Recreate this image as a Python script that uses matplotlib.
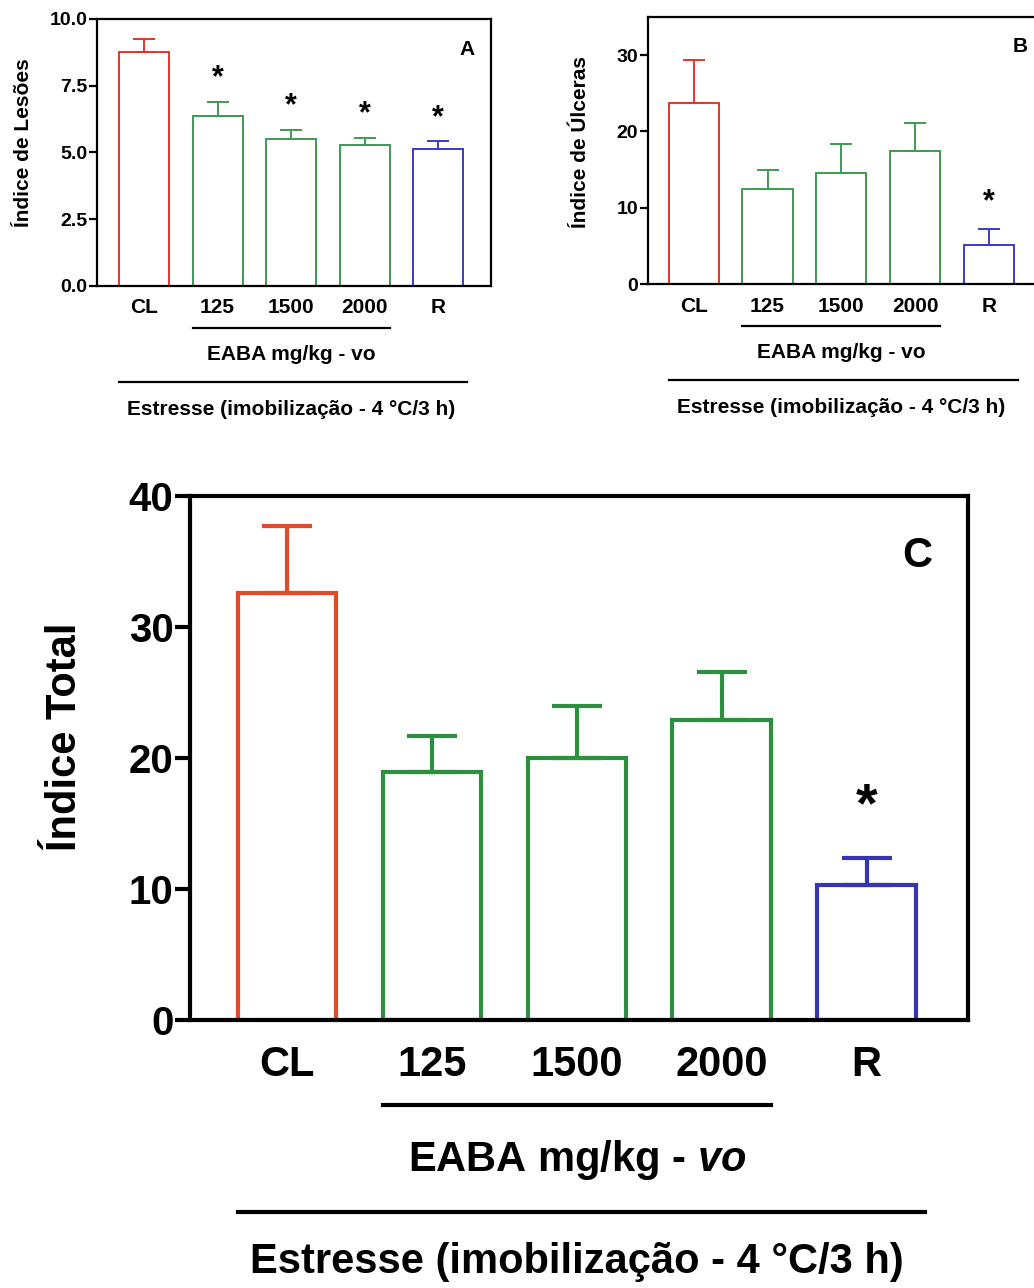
import matplotlib.pyplot as plt
import numpy as np

plt.rcParams['font.family'] = ['Liberation Sans', 'DejaVu Sans']
plt.rcParams['font.weight'] = 'bold'
plt.rcParams['mathtext.fontset'] = 'custom'
plt.rcParams['mathtext.rm'] = 'Liberation Sans:bold'
plt.rcParams['mathtext.it'] = 'Liberation Sans:italic:bold'

# data (mean + upper SEM)
groups = ['CL', '125', '1500', '2000', 'R']
lesoes_mean = [8.78, 6.37, 5.49, 5.26, 5.12]
lesoes_sem = [0.46, 0.53, 0.35, 0.27, 0.29]
lesoes_sig = [False, True, True, True, True]
ulceras_mean = [23.7, 12.5, 14.5, 17.5, 5.15]
ulceras_sem = [5.6, 2.4, 3.8, 3.6, 2.1]
ulceras_sig = [False, False, False, False, True]
total_mean = [32.6, 18.9, 20.0, 22.9, 10.3]
total_sem = [5.1, 2.8, 4.0, 3.7, 2.1]
total_sig = [False, False, False, False, True]

small_colors = ['#e8332c', '#3f9a52', '#3f9a52', '#3f9a52', '#3c3cc6']
big_colors = ['#e14b2c', '#2f8f40', '#2f8f40', '#2f8f40', '#3535b2']

small = dict(lw_sp=1.6, lw_bar=1.4, cap=8, tick=14, tlen=6, cat=15, cat_pad=9,
             lab=15, letter=15, star=22, star_off=17, txt=15,
             y_line1=-0.157, y_eaba=-0.258, y_line2=-0.36, y_est=-0.464)
big = dict(lw_sp=3.0, lw_bar=3.0, cap=18, tick=29, tlen=11, cat=30, cat_pad=18,
           lab=30, letter=30, star=40, star_off=36, txt=30,
           y_line1=-0.162, y_eaba=-0.267, y_line2=-0.366, y_est=-0.462)


def draw_panel(ax, means, sems, sig, colors, s, ylim, yticks, yfmt, ylabel,
               letter, letter_pos, xlim, eaba_text, star_off=None):
    x = np.arange(len(groups))
    ax.bar(x, means, width=0.68, fill=False, edgecolor=colors, linewidth=s['lw_bar'], zorder=2)
    for xi, m, e, c in zip(x, means, sems, colors):
        ax.errorbar(xi, m, yerr=[[0], [e]], fmt='none', ecolor=c, elinewidth=s['lw_bar'],
                    capsize=s['cap'], capthick=s['lw_bar'], zorder=2)
    off = star_off if star_off is not None else s['star_off']
    for xi, m, e, flag in zip(x, means, sems, sig):
        if flag:
            ax.annotate('*', xy=(xi, m + e), xytext=(0, off), textcoords='offset points',
                        ha='center', va='center', fontsize=s['star'], fontweight='bold')
    ax.set_xlim(*xlim)
    ax.set_ylim(*ylim)
    ax.set_yticks(yticks)
    ax.set_yticklabels([yfmt.format(v) for v in yticks])
    ax.set_xticks(x)
    ax.set_xticklabels(groups)
    ax.tick_params(axis='x', length=0, pad=s['cat_pad'], labelsize=s['cat'])
    ax.tick_params(axis='y', length=s['tlen'], width=s['lw_sp'], pad=1, labelsize=s['tick'])
    for sp in ax.spines.values():
        sp.set_linewidth(s['lw_sp'])
    ax.set_ylabel(ylabel, fontsize=s['lab'], fontweight='bold')
    ax.text(letter_pos[0], letter_pos[1], letter, transform=ax.transAxes, fontsize=s['letter'],
            fontweight='bold', ha='center', va='center')
    tr = ax.get_xaxis_transform()
    ax.plot([0.66, 3.34], [s['y_line1']] * 2, color='black', lw=s['lw_sp'], transform=tr, clip_on=False)
    ax.plot([-0.34, 4.4], [s['y_line2']] * 2, color='black', lw=s['lw_sp'], transform=tr, clip_on=False)
    ax.text(2, s['y_eaba'], eaba_text, transform=tr, ha='center', va='center', fontsize=s['txt'],
            fontweight='bold')
    ax.text(2, s['y_est'], 'Estresse (imobilização - 4 °C/3 h)', transform=tr, ha='center',
            va='center', fontsize=s['txt'], fontweight='bold')


fig = plt.figure(figsize=(10.34, 12.88), dpi=100)
axA = fig.add_axes([0.0938, 0.778, 0.381, 0.2073])
axB = fig.add_axes([0.6267, 0.7795, 0.381, 0.2073])
axC = fig.add_axes([0.1838, 0.2081, 0.7524, 0.4068])

draw_panel(axA, lesoes_mean, lesoes_sem, lesoes_sig, small_colors, small, (0, 10),
           [0, 2.5, 5.0, 7.5, 10.0], '{:.1f}', 'Índice de Lesões', 'A', (0.94, 0.885),
           (-0.64, 4.72), 'EABA mg/kg - vo')
draw_panel(axB, ulceras_mean, ulceras_sem, ulceras_sig, small_colors, small, (0, 35),
           [0, 10, 20, 30], '{:.0f}', 'Índice de Úlceras', 'B', (0.945, 0.89),
           (-0.62, 4.72), 'EABA mg/kg - vo', star_off=19)
draw_panel(axC, total_mean, total_sem, total_sig, big_colors, big, (0, 40),
           [0, 10, 20, 30, 40], '{:.0f}', 'Índice Total', 'C', (0.935, 0.885),
           (-0.67, 4.7), r'EABA mg/kg - $\mathit{vo}$')

axA.yaxis.set_label_coords(-0.162, 0.535)
axB.yaxis.set_label_coords(-0.147, 0.53)
axC.yaxis.set_label_coords(-0.135, 0.54)

fig.savefig('out.png', dpi=100)
